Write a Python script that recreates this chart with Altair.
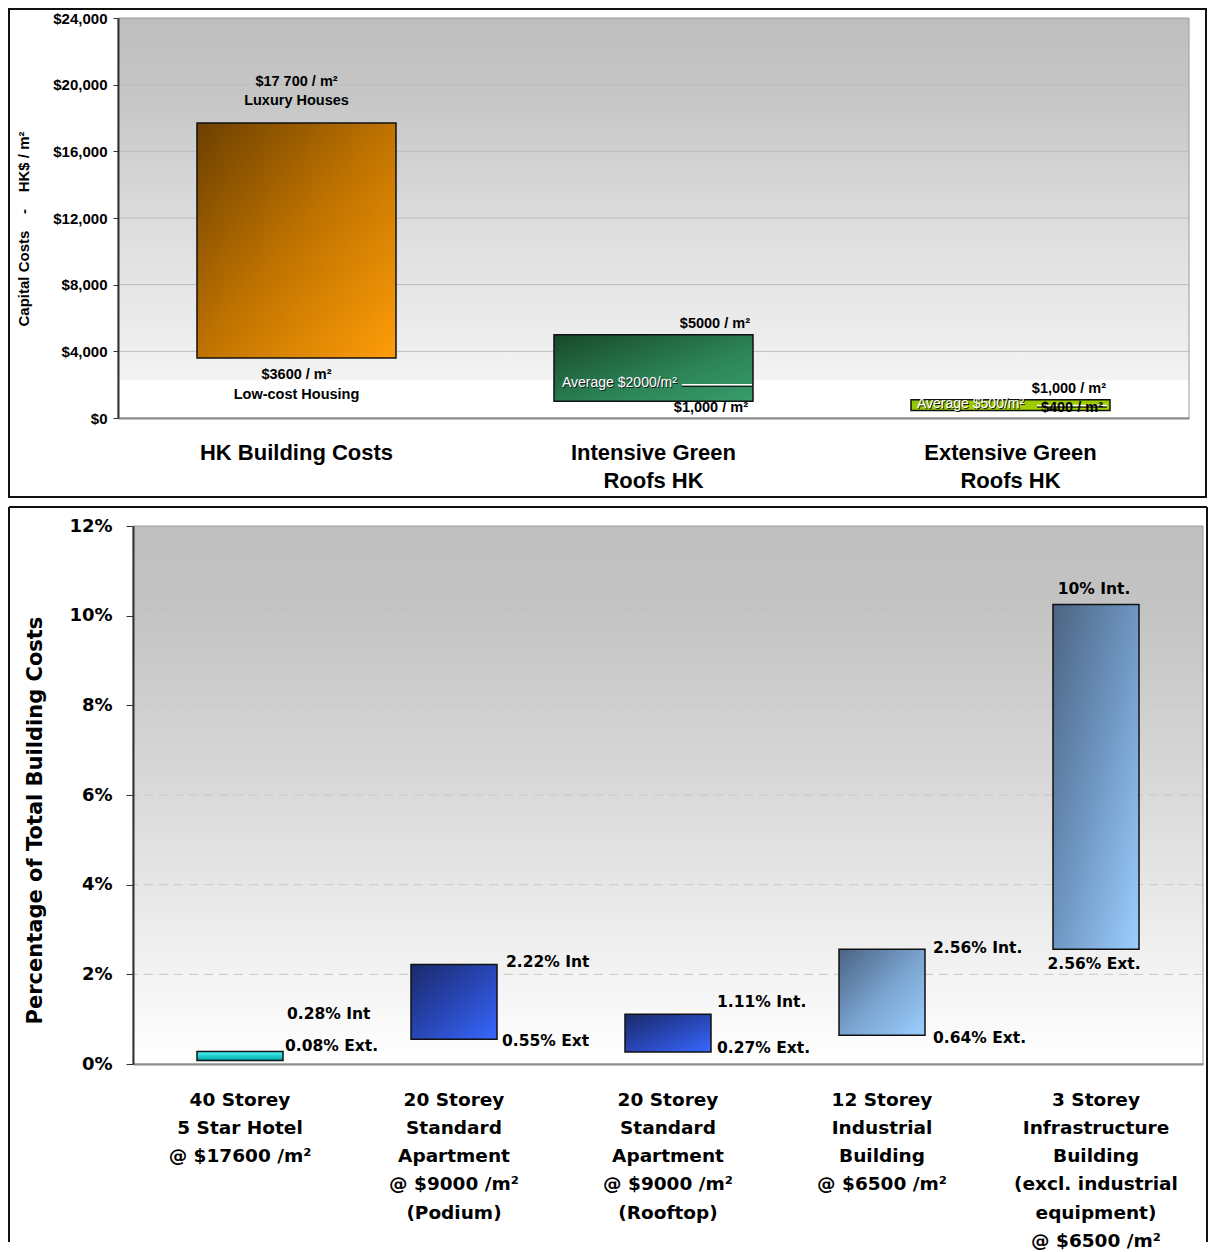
import altair as alt
import pandas as pd

# ---------------- data: top panel (capital costs) ----------------
top_categories = ["HK Building Costs", "Intensive Green\nRoofs HK", "Extensive Green\nRoofs HK"]
top_low = [3600, 1000, 450]
top_high = [17700, 5000, 1100]
top_ticks = [0, 4000, 8000, 12000, 16000, 20000, 24000]
top_high_labels = [["$17 700 / m²", "Luxury Houses"], ["$5000 / m²"], ["$1,000 / m²"]]
top_low_labels = [["$3600 / m²", "Low-cost Housing"], ["$1,000 / m²"], ["$400 / m²"]]
avg_cats = [1, 2]
avg_levels = [2000, 750]
avg_texts = ["Average $2000/m²", "Average $500/m²"]
top_title = "Capital Costs\u00a0\u00a0\u00a0\u00a0-\u00a0\u00a0\u00a0\u00a0HK$ / m²"

# ---------------- data: bottom panel (percentage) ----------------
bottom_categories = [
    "40 Storey\n5 Star Hotel\n@ $17600 /m²",
    "20 Storey\nStandard\nApartment\n@ $9000 /m²\n(Podium)",
    "20 Storey\nStandard\nApartment\n@ $9000 /m²\n(Rooftop)",
    "12 Storey\nIndustrial\nBuilding\n@ $6500 /m²",
    "3 Storey\nInfrastructure\nBuilding\n(excl. industrial\nequipment)\n@ $6500 /m²",
]
bottom_ext = [0.08, 0.55, 0.27, 0.64, 2.56]
bottom_int = [0.28, 2.22, 1.11, 2.56, 10.25]
bottom_int_labels = ["0.28% Int", "2.22% Int", "1.11% Int.", "2.56% Int.", "10% Int."]
bottom_ext_labels = ["0.08% Ext.", "0.55% Ext", "0.27% Ext.", "0.64% Ext.", "2.56% Ext."]
bottom_ticks = [0, 2, 4, 6, 8, 10, 12]
bottom_title = "Percentage of Total Building Costs"

# ---------------- styling ----------------
FONT_TOP = "Liberation Sans, Arial, sans-serif"
FONT_BOT = "DejaVu Sans, Verdana, sans-serif"
SHIFT = 15            # top plot starts 15px left of the bottom plot
W1, H1 = 1056, 400    # top plot: visible area spans [-SHIFT, W1]
W2, H2 = 1070, 538


def grad(stops, x2=1, y2=1):
    return alt.LinearGradient(
        gradient="linear",
        stops=[alt.GradientStop(color=c, offset=o) for o, c in stops],
        x1=0, y1=0, x2=x2, y2=y2,
    )


one = pd.DataFrame({"k": [0]})

# ================= TOP PANEL =================
x_top = alt.Scale(domain=top_categories, range=[-SHIFT, W1], paddingInner=0, paddingOuter=0)
y_top = alt.Scale(domain=[0, 24000], nice=False)

x_axis_top = alt.Axis(
    title=None, labelExpr="split(datum.label, '\\n')", labelFont=FONT_TOP,
    labelFontSize=22, labelFontWeight="bold", labelColor="#000", labelAngle=0,
    labelPadding=24.5, labelLineHeight=28, labelLimit=0, labelOverlap=False,
    ticks=False, tickSize=0, domainColor="#8a8a8a", domainWidth=2, grid=False, zindex=1,
)
y_axis_top = alt.Axis(
    values=top_ticks, format="$,.0f", title=top_title, offset=SHIFT,
    titleFont=FONT_TOP, titleFontSize=15, titleFontWeight="bold", titleColor="#000",
    titleAngle=270, titleAlign="center", titleBaseline="alphabetic",
    titleX=-89.5, titleY=210.5, titleLimit=0,
    labelFont=FONT_TOP, labelFontSize=15, labelFontWeight="bold", labelColor="#000",
    labelPadding=6, tickSize=5, tickColor="#333", domainColor="#333", domainWidth=2,
    grid=False, zindex=1,
)


def XT(field="cat:N"):
    return alt.X(field, scale=x_top, axis=x_axis_top)


def YT(field):
    return alt.Y(field, scale=y_top, axis=y_axis_top)


bg_top = alt.Chart(one).mark_rect(
    fill=grad([(0, "#bebebe"), (0.2, "#c6c6c6"), (0.5, "#dcdcdc"), (0.905, "#f3f3f3"),
               (0.906, "#ffffff"), (1, "#ffffff")], x2=0, y2=1)
).encode(x=alt.value(-SHIFT), x2=alt.value("width"), y=alt.value(0), y2=alt.value("height"))

grid_top = alt.Chart(pd.DataFrame({"g": top_ticks[1:-1]})).mark_rule(
    color="#bcbcbc", strokeWidth=1
).encode(y=YT("g:Q"), x=alt.value(-SHIFT), x2=alt.value("width"))

top_fills = [
    grad([(0, "#6c4000"), (0.5, "#c07300"), (1, "#ff9d08")]),
    grad([(0, "#184828"), (0.6, "#2c8457"), (1, "#389c6b")]),
    grad([(0, "#90c000"), (1, "#a8d600")]),
]

layers_top = [bg_top, grid_top]
for i, c in enumerate(top_categories):
    df = pd.DataFrame({"cat": [c], "low": [top_low[i]], "high": [top_high[i]]})
    layers_top.append(
        alt.Chart(df).mark_bar(size=199, fill=top_fills[i], stroke="#111", strokeWidth=1.5).encode(
            x=XT(), y=YT("low:Q"), y2="high:Q",
        )
    )


def top_text(ci, value, text, **mk):
    df = pd.DataFrame({"cat": [top_categories[ci]], "v": [value], "t": [text]})
    base = dict(font=FONT_TOP, fontSize=14.5, fontWeight="bold", color="#000", baseline="middle")
    base.update(mk)
    return alt.Chart(df).mark_text(**base).encode(x=XT(), y=YT("v:Q"), text="t:N")


# average lines + labels
avg_xoff = [63.5, 61.5]
avg_dx = [-91.5, -93.5]
for j, ci in enumerate(avg_cats):
    df = pd.DataFrame({"cat": [top_categories[ci]], "v": [avg_levels[j]]})
    layers_top.append(alt.Chart(df).mark_tick(orient="horizontal", size=70, thickness=1.5,
                                              xOffset=avg_xoff[j], yOffset=1.5, color="#1a1a1a",
                                              opacity=1).encode(x=XT(), y=YT("v:Q")))
    layers_top.append(alt.Chart(df).mark_tick(orient="horizontal", size=70, thickness=1.5,
                                              xOffset=avg_xoff[j], color="#ffffff",
                                              opacity=1).encode(x=XT(), y=YT("v:Q")))
    layers_top.append(top_text(ci, avg_levels[j], avg_texts[j], align="left", dx=avg_dx[j] + 1, dy=-0.5,
                               fontSize=14, fontWeight="normal", color="#1a1a1a"))
    layers_top.append(top_text(ci, avg_levels[j], avg_texts[j], align="left", dx=avg_dx[j], dy=-1.5,
                               fontSize=14, fontWeight="normal", color="#ffffff"))

# value labels
layers_top += [
    top_text(0, top_high[0], top_high_labels[0][0], align="center", dy=-41),
    top_text(0, top_high[0], top_high_labels[0][1], align="center", dy=-22),
    top_text(0, top_low[0], top_low_labels[0][0], align="center", dy=17),
    top_text(0, top_low[0], top_low_labels[0][1], align="center", dy=37),
    top_text(1, top_high[1], top_high_labels[1][0], align="right", dx=96.5, dy=-11),
    top_text(1, top_low[1], top_low_labels[1][0], align="right", dx=94.5, dy=7),
    top_text(2, top_high[2], top_high_labels[2][0], align="right", dx=95.5, dy=-11),
    top_text(2, top_low[2], top_low_labels[2][0], align="right", dx=92.5, dy=-2.5),
]

outline_top = alt.Chart(one).mark_rect(fillOpacity=0, stroke="#9a9a9a", strokeWidth=1).encode(
    x=alt.value(-SHIFT), x2=alt.value("width"), y=alt.value(0), y2=alt.value("height"))
frame_top = alt.Chart(one).mark_rect(fillOpacity=0, stroke="#111", strokeWidth=2).encode(
    x=alt.value(-124), x2=alt.value(1073), y=alt.value(-9), y2=alt.value(479))
layers_top += [outline_top, frame_top]

top_chart = alt.layer(*layers_top).properties(width=W1, height=H1)

# ================= BOTTOM PANEL =================
x_bot = alt.Scale(domain=bottom_categories, paddingInner=0, paddingOuter=0)
y_bot = alt.Scale(domain=[0, 12], nice=False)

x_axis_bot = alt.Axis(
    title=None, labelExpr="split(datum.label, '\\n')", labelFont=FONT_BOT,
    labelFontSize=18.5, labelFontWeight="bold", labelColor="#000", labelAngle=0,
    labelPadding=26, labelLineHeight=28.3, labelLimit=0, labelOverlap=False,
    ticks=False, tickSize=0, domainColor="#8a8a8a", domainWidth=2, grid=False, zindex=1,
)
y_axis_bot = alt.Axis(
    values=bottom_ticks, labelExpr="datum.value + '%'", title=bottom_title,
    titleFont=FONT_BOT, titleFontSize=21, titleFontWeight="bold", titleColor="#000",
    titleAngle=270, titleAlign="center", titleBaseline="alphabetic",
    titleX=-92, titleY=294, titleLimit=0,
    labelFont=FONT_BOT, labelFontSize=18, labelFontWeight="bold", labelColor="#000",
    labelPadding=14, tickSize=7, tickColor="#333", domainColor="#333", domainWidth=2,
    grid=False, zindex=1,
)


def XB(field="cat:N"):
    return alt.X(field, scale=x_bot, axis=x_axis_bot)


def YB(field):
    return alt.Y(field, scale=y_bot, axis=y_axis_bot)


bg_bot = alt.Chart(one).mark_rect(
    fill=grad([(0, "#bfbfbf"), (0.15, "#c3c3c3"), (0.5, "#dadada"), (0.85, "#f4f4f4"), (1, "#ffffff")], x2=0, y2=1)
).encode(x=alt.value(0), x2=alt.value("width"), y=alt.value(0), y2=alt.value("height"))

grid_bot = alt.Chart(pd.DataFrame({"g": bottom_ticks[1:-1]})).mark_rule(
    color="#c8c8c8", strokeWidth=1, strokeDash=[9, 6]
).encode(y=YB("g:Q"))

bottom_fills = [
    grad([(0, "#48f8f8"), (1, "#00a4a4")], x2=0, y2=1),
    grad([(0, "#1a2a6a"), (0.5, "#2845b4"), (1, "#3769ff")]),
    grad([(0, "#1a2a6a"), (0.5, "#2845b4"), (1, "#3769ff")]),
    grad([(0, "#4a6282"), (0.5, "#79a2ce"), (1, "#9ccfff")]),
    grad([(0, "#4b6482"), (0.5, "#6f96c2"), (1, "#9ccfff")]),
]

layers_bot = [bg_bot, grid_bot]
for i, c in enumerate(bottom_categories):
    df = pd.DataFrame({"cat": [c], "ext": [bottom_ext[i]], "int": [bottom_int[i]]})
    layers_bot.append(
        alt.Chart(df).mark_bar(size=86, fill=bottom_fills[i], stroke="#111", strokeWidth=1.5).encode(
            x=XB(), y=YB("ext:Q"), y2="int:Q",
        )
    )


def bot_text(ci, value, text, **mk):
    df = pd.DataFrame({"cat": [bottom_categories[ci]], "v": [value], "t": [text]})
    base = dict(font=FONT_BOT, fontSize=15.5, fontWeight="bold", color="#000", baseline="middle")
    base.update(mk)
    return alt.Chart(df).mark_text(**base).encode(x=XB(), y=YB("v:Q"), text="t:N")


int_off = [(47, -37, "left"), (52, -2, "left"), (49, -12, "left"), (51, -1, "left"), (-2, -15, "center")]
ext_off = [(45, -14, "left"), (48, 2, "left"), (49, -4, "left"), (51, 3, "left"), (-2, 15, "center")]
for i in range(len(bottom_categories)):
    dx, dy, al = int_off[i]
    layers_bot.append(bot_text(i, bottom_int[i], bottom_int_labels[i], dx=dx, dy=dy, align=al))
    dx, dy, al = ext_off[i]
    layers_bot.append(bot_text(i, bottom_ext[i], bottom_ext_labels[i], dx=dx, dy=dy, align=al))

outline_bot = alt.Chart(one).mark_rect(fillOpacity=0, stroke="#9a9a9a", strokeWidth=1).encode(
    x=alt.value(0), x2=alt.value("width"), y=alt.value(0), y2=alt.value("height"))
fl = alt.Chart(one).mark_rule(color="#111", strokeWidth=2).encode(
    x=alt.value(-124), y=alt.value(-19), y2=alt.value(716))
fr = alt.Chart(one).mark_rule(color="#111", strokeWidth=2).encode(
    x=alt.value(W2 + 4), y=alt.value(-19), y2=alt.value(716))
ft = alt.Chart(one).mark_rule(color="#111", strokeWidth=2).encode(
    x=alt.value(-124), x2=alt.value(W2 + 4), y=alt.value(-19))
layers_bot += [outline_bot, fl, fr, ft]

bottom_chart = alt.layer(*layers_bot).properties(width=W2, height=H2)

chart = (
    alt.vconcat(top_chart, bottom_chart, spacing=8)
    .properties(padding=0, background="#ffffff")
    .configure_view(strokeWidth=0)
)

chart.save("out.html", embed_options={"renderer": "svg", "actions": False})
